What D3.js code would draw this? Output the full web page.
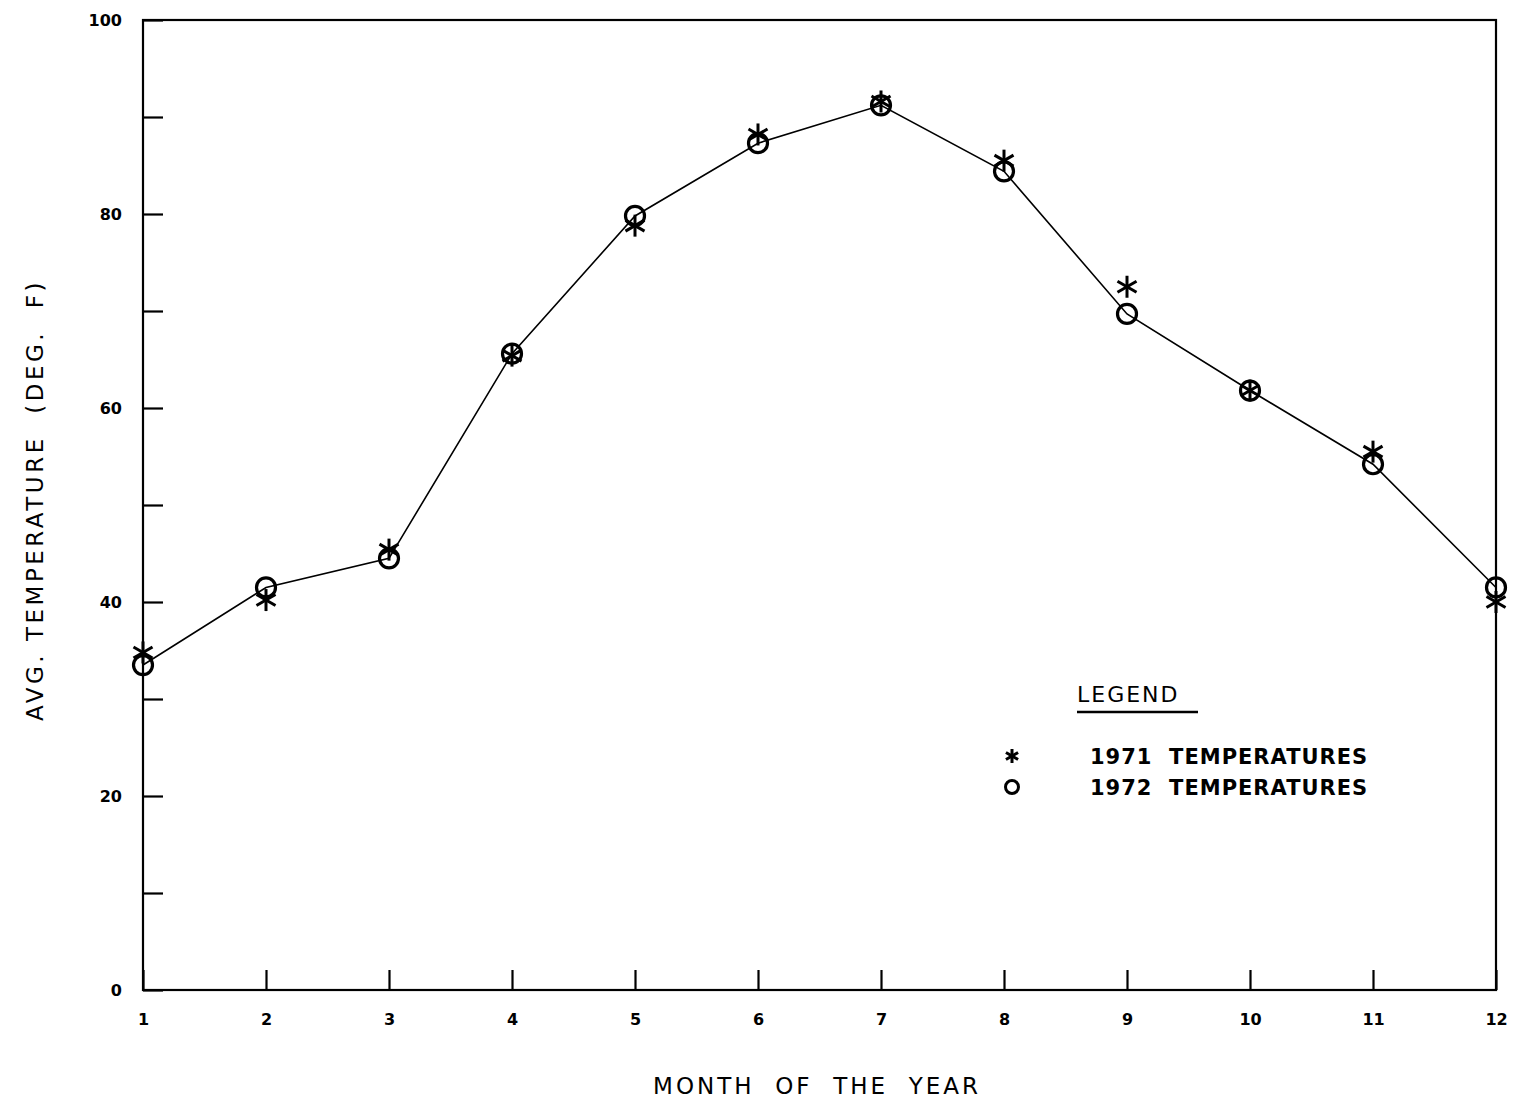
<!DOCTYPE html>
<html><head><meta charset="utf-8">
<script src="https://cdn.jsdelivr.net/npm/d3@7"></script>
<style>body{margin:0;background:#fff}svg{display:block}text{white-space:pre}</style>
</head><body>
<svg id="c" width="1516" height="1102"></svg>
<script>
const months = [1,2,3,4,5,6,7,8,9,10,11,12];
const temps1971 = [34.8,40.2,45.4,65.4,78.8,88.2,91.6,85.5,72.5,61.8,55.5,40.0];
const temps1972 = [33.5,41.5,44.5,65.6,79.8,87.3,91.2,84.4,69.7,61.8,54.2,41.5];
const yTickValues = [0,10,20,30,40,50,60,70,80,90,100];
const yLabelValues = [0,20,40,60,80,100];
const legendLabels = ["1971 TEMPERATURES","1972 TEMPERATURES"];

const svg = d3.select("#c");
const x = d3.scaleLinear().domain([1,12]).range([143,1496]);
const y = d3.scaleLinear().domain([0,100]).range([990,20]);
const ink = "#000";
const font = "'DejaVu Sans', Arial, sans-serif";

// frame
svg.append("rect").attr("x",x(1)).attr("y",y(100)).attr("width",x(12)-x(1)).attr("height",y(0)-y(100))
  .attr("fill","none").attr("stroke",ink).attr("stroke-width",2.2);

// y axis ticks (inward)
const yAxis = d3.axisRight(y).tickValues(yTickValues).tickSize(20)
  .tickFormat(d => yLabelValues.includes(d) ? d : "");
const gy = svg.append("g").attr("transform",`translate(${x(1)},0)`).call(yAxis);
gy.select(".domain").remove();
gy.selectAll(".tick line").attr("stroke",ink).attr("stroke-width",2.2);
gy.selectAll(".tick text").attr("x",-21).attr("text-anchor","end").attr("dy","0.35em")
  .attr("font-family",font).attr("font-weight","bold").attr("font-size",16).attr("fill",ink);

// x axis ticks (inward)
const xAxis = d3.axisTop(x).tickValues(months).tickSize(20).tickFormat(d3.format("d"));
const gx = svg.append("g").attr("transform",`translate(0,${y(0)})`).call(xAxis);
gx.select(".domain").remove();
gx.selectAll(".tick line").attr("stroke",ink).attr("stroke-width",2.2);
gx.selectAll(".tick text").attr("y",35).attr("dy",0).attr("text-anchor","middle")
  .attr("font-family",font).attr("font-weight","bold").attr("font-size",16).attr("fill",ink);

// line through 1972
const line = d3.line().x((d,i)=>x(months[i])).y(d=>y(d));
svg.append("path").datum(temps1972).attr("d",line).attr("fill","none")
  .attr("stroke",ink).attr("stroke-width",1.6);

// asterisk symbol
function asterisk(g, cx, cy, r, w){
  for (let a of [90, 30, -30]) {
    const rad = a*Math.PI/180;
    g.append("line").attr("x1",cx - r*Math.cos(rad)).attr("y1",cy - r*Math.sin(rad))
      .attr("x2",cx + r*Math.cos(rad)).attr("y2",cy + r*Math.sin(rad))
      .attr("stroke",ink).attr("stroke-width",w);
  }
}
const marks = svg.append("g");
temps1971.forEach((v,i)=>asterisk(marks, x(months[i]), y(v), 11, 3));
marks.selectAll("circle").data(temps1972).join("circle")
  .attr("cx",(d,i)=>x(months[i])).attr("cy",d=>y(d)).attr("r",9.5)
  .attr("fill","none").attr("stroke",ink).attr("stroke-width",3.2);

// axis titles
svg.append("text").attr("x",817).attr("y",1094).attr("text-anchor","middle")
  .attr("font-family",font).attr("font-size",23).attr("letter-spacing",3).attr("fill",ink)
  .text("MONTH  OF  THE  YEAR");
svg.append("text").attr("transform",`translate(43,500) rotate(-90)`).attr("text-anchor","middle")
  .attr("font-family",font).attr("font-size",23).attr("letter-spacing",3.5).attr("fill",ink)
  .text("AVG. TEMPERATURE  (DEG.  F)");

// legend
const lg = svg.append("g");
lg.append("text").attr("x",1077).attr("y",702).attr("font-family",font).attr("font-size",22)
  .attr("letter-spacing",2).attr("fill",ink).text("LEGEND");
lg.append("line").attr("x1",1077).attr("x2",1198).attr("y1",712).attr("y2",712).attr("stroke",ink).attr("stroke-width",2.5);
asterisk(lg, 1012, 756, 7, 3);
lg.append("circle").attr("cx",1012).attr("cy",787).attr("r",6.5).attr("fill","none").attr("stroke",ink).attr("stroke-width",3);
legendLabels.forEach((t,i)=>{
  lg.append("text").attr("x",1090).attr("y",764+i*31).attr("font-family",font).attr("font-weight","bold")
    .attr("font-size",21).attr("letter-spacing",1).attr("fill",ink).text(t.replace(" ","  "));
});
</script>
</body></html>
